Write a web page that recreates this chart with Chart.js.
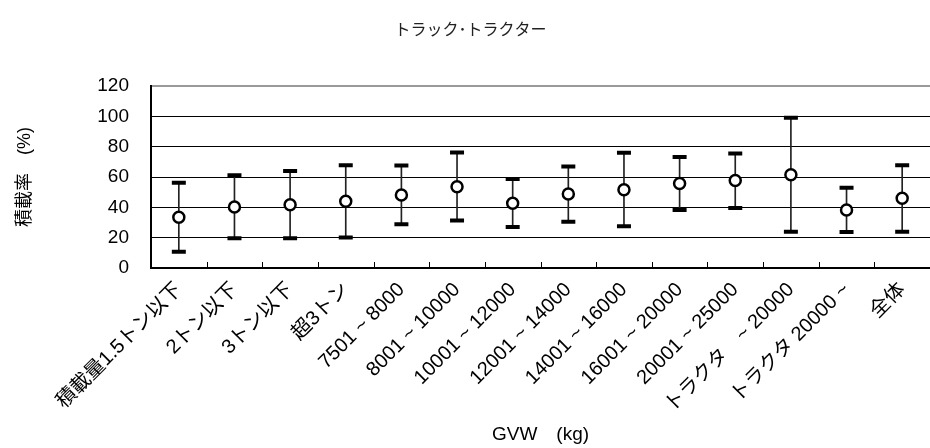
<!DOCTYPE html>
<html>
<head>
<meta charset="utf-8">
<script src="https://cdn.jsdelivr.net/npm/chart.js@4/dist/chart.umd.min.js"></script>
<style>
  html, body { margin: 0; padding: 0; background: #fff; }
  #wrap { width: 930px; height: 448px; overflow: hidden; position: relative; }
  canvas { display: block; }
</style>
</head>
<body>
<div id="wrap"><canvas id="c" width="941" height="448"></canvas></div>
<script>
const categories = ['積載量1.5トン以下', '2トン以下', '3トン以下', '超3トン', '7501 ~ 8000', '8001 ~ 10000',
  '10001 ~ 12000', '12001 ~ 14000', '14001 ~ 16000', '16001 ~ 20000', '20001 ~ 25000',
  'トラクタ　~ 20000', 'トラクタ 20000 ~', '全体'];
const means = [33.5, 40.3, 41.8, 44.0, 48.2, 53.6, 42.7, 48.8, 51.7, 55.8, 57.8, 61.5, 38.3, 46.0];
const highs = [56.3, 61.3, 64.1, 67.9, 67.7, 76.2, 58.7, 67.0, 76.0, 73.3, 75.6, 99.2, 53.0, 67.9];
const lows  = [10.7, 19.7, 19.7, 20.1, 28.9, 31.3, 27.1, 30.6, 27.6, 38.3, 39.6, 23.9, 23.7, 23.9];
const yMin = 0, yMax = 120, yStep = 20;
const titleText = 'トラック･トラクター';
const xTitle = 'GVW　(kg)';
const yTitle = '積載率　(%)';

const FONT = "'Liberation Sans', 'Noto Sans CJK JP', sans-serif";

const innerTicks = {
  id: 'innerTicks',
  afterDatasetsDraw(chart) {
    const x = chart.scales.x, ctx = chart.ctx, b = chart.chartArea.bottom;
    ctx.save();
    ctx.strokeStyle = '#000';
    ctx.lineWidth = 1;
    for (let i = 1; i < categories.length; i++) {
      const px = Math.round(x.getPixelForValue(i - 0.5)) + 0.5;
      ctx.beginPath();
      ctx.moveTo(px, b - 6);
      ctx.lineTo(px, b);
      ctx.stroke();
    }
    ctx.restore();
  }
};

new Chart(document.getElementById('c'), {
  type: 'bar',
  data: {
    labels: categories,
    datasets: [
      {
        type: 'bar',
        data: lows.map((l, i) => [l, highs[i]]),
        backgroundColor: '#222',
        barThickness: 1,
        order: 4
      },
      {
        type: 'line',
        data: highs,
        showLine: false,
        pointStyle: 'line',
        pointRadius: 7,
        borderColor: '#000',
        pointBorderColor: '#000',
        pointBorderWidth: 4,
        order: 3
      },
      {
        type: 'line',
        data: lows,
        showLine: false,
        pointStyle: 'line',
        pointRadius: 7,
        borderColor: '#000',
        pointBorderColor: '#000',
        pointBorderWidth: 4,
        order: 2
      },
      {
        type: 'line',
        data: means,
        showLine: false,
        pointStyle: 'circle',
        pointRadius: 5.5,
        pointBackgroundColor: '#fff',
        pointBorderColor: '#000',
        pointBorderWidth: 2.5,
        order: 1
      }
    ]
  },
  options: {
    responsive: false,
    animation: false,
    layout: { padding: { left: 0, right: 0, top: 0, bottom: 0 } },
    plugins: {
      legend: { display: false },
      tooltip: { enabled: false },
      title: {
        display: true,
        text: titleText,
        color: '#222',
        font: { family: FONT, size: 16, weight: 'normal' },
        padding: { top: 21, bottom: 46 }
      }
    },
    scales: {
      x: {
        offset: true,
        grid: { display: true, drawOnChartArea: false, drawTicks: false, offset: true },
        border: { display: true, color: '#000', width: 2 },
        ticks: {
          color: '#000',
          font: { family: FONT, size: 20 },
          maxRotation: 45,
          minRotation: 45,
          autoSkip: false,
          padding: 10
        },
        title: {
          display: true,
          text: xTitle,
          color: '#000',
          font: { family: FONT, size: 19 },
          padding: { top: 0, bottom: 2 }
        },
        afterFit(scale) { scale.height = 180; }
      },
      y: {
        min: yMin,
        max: yMax,
        ticks: {
          stepSize: yStep,
          color: '#000',
          font: { family: FONT, size: 19 },
          padding: 22
        },
        grid: {
          drawTicks: false,
          color: (c) => c.tick && c.tick.value === yMax ? '#999' : '#000',
          lineWidth: (c) => c.tick && c.tick.value === yMax ? 2 : 1
        },
        border: { display: true, color: '#000', width: 2 },
        title: {
          display: true,
          text: yTitle,
          color: '#000',
          font: { family: FONT, size: 18 },
          padding: { top: 14, bottom: 0 }
        },
        afterFit(scale) { scale.width = 151; }
      }
    }
  },
  plugins: [innerTicks]
});
</script>
</body>
</html>
